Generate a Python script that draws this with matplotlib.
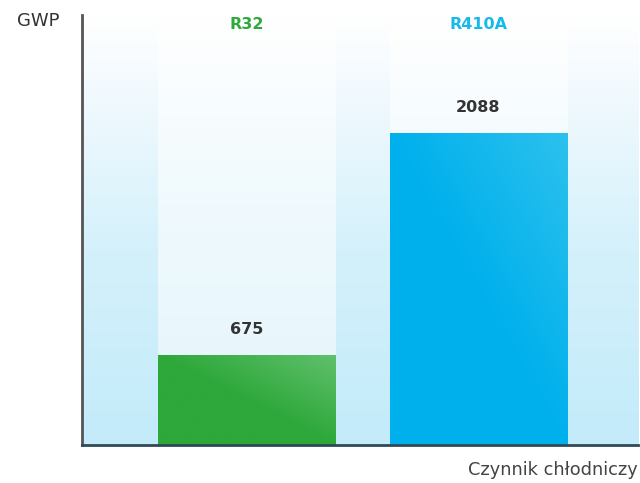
import matplotlib.pyplot as plt
import numpy as np
from matplotlib.colors import LinearSegmentedColormap

# dane
refrigerants = ["R32", "R410A"]
gwp_values = [675, 2088]
label_colors = ["#2eaa3a", "#17b8ea"]
bar_colors = [("#2ea83a", "#5fc06c"), ("#00b0ec", "#2cc1ee")]

plt.rcParams['font.family'] = ['DejaVu Sans']

fig = plt.figure(figsize=(6.4, 4.83), dpi=100)
ax = fig.add_axes([0.128, 0.079, 0.869, 0.89])

x = np.arange(len(refrigerants))
width = 0.765
x0, x1 = -0.711, 1.691
y0, y1 = 102, 2839
ax.set_xlim(x0, x1)
ax.set_ylim(y0, y1)

# tlo - gradient pionowy
bg = LinearSegmentedColormap.from_list(
    "bg", [(0, "#c3ebfa"), (0.45, "#d4f1fb"), (0.8, "#f0f9fe"), (1, "#ffffff")])
grad = np.linspace(0, 1, 256).reshape(-1, 1)
ax.imshow(grad, cmap=bg, aspect='auto', origin='lower',
          extent=[x0, x1, y0, y1], zorder=0)

# jasniejsze pasy za slupkami
col = LinearSegmentedColormap.from_list(
    "col", [(0, "#e4f5fc"), (0.5, "#eef9fd"), (1, "#ffffff")])
for xi in x:
    ax.imshow(grad, cmap=col, aspect='auto', origin='lower',
              extent=[xi - width / 2, xi + width / 2, y0, y1], zorder=1)

# slupki z gradientem
bars = ax.bar(x, gwp_values, width=width, color="none", zorder=2)
diag = np.add.outer(np.linspace(0, 1, 64), np.linspace(0, 1, 64)) / 2
for b, (c0, c1) in zip(bars, bar_colors):
    cm = LinearSegmentedColormap.from_list("b", [c0, c0, c1])
    im = ax.imshow(diag, cmap=cm, aspect='auto', origin='lower',
                   extent=[b.get_x(), b.get_x() + b.get_width(), y0, b.get_height()],
                   zorder=3)
    im.set_clip_path(b)

for xi, v, name, c in zip(x, gwp_values, refrigerants, label_colors):
    ax.text(xi, v + 160, str(v), ha='center', va='center', fontsize=11.5,
            fontweight='bold', color='#333333', zorder=4)
    ax.text(xi, 2780, name, ha='center', va='center', fontsize=11.5,
            fontweight='bold', color=c, zorder=4)

ax.set_xticks([])
ax.set_yticks([])
for s in ['top', 'right']:
    ax.spines[s].set_visible(False)
ax.spines['left'].set_color('#555555')
ax.spines['left'].set_linewidth(2)
ax.spines['bottom'].set_color('#2f4a55')
ax.spines['bottom'].set_linewidth(2)
ax.spines['left'].set_zorder(5)
ax.spines['bottom'].set_zorder(5)

fig.text(17 / 640, 1 - 21 / 483, "GWP", ha='left', va='center',
         fontsize=13, color='#333333')
fig.text(638 / 640, 1 - 470 / 483, "Czynnik chłodniczy", ha='right', va='center',
         fontsize=12.8, color='#444444')

fig.savefig("out.png", dpi=100)
